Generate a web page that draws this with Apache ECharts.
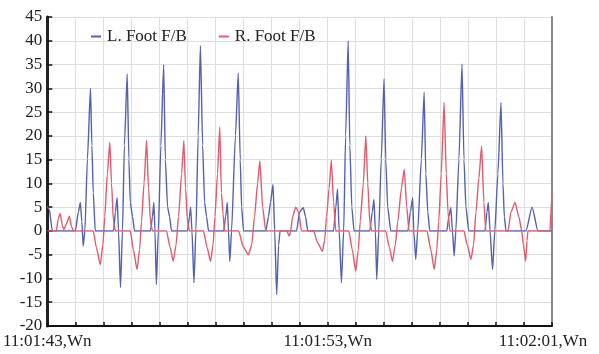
<!DOCTYPE html>
<html>
<head>
<meta charset="utf-8">
<script src="https://cdn.jsdelivr.net/npm/echarts@6/dist/echarts.min.js"></script>
<style>html,body{margin:0;padding:0;background:#fff}#c{width:599px;height:354px}</style>
</head>
<body>
<div id="c"></div>
<script>
// time in seconds after 11:01:43
const seriesNames = ['L. Foot F/B', 'R. Foot F/B'];
const timeLabels = {0: '11:01:43,Wn', 10: '11:01:53,Wn', 18: '11:02:01,Wn'};
const yTicks = {min: -20, max: 45, step: 5};

const leftT = [0.00,0.07,0.18,1.00,1.11,1.18,1.23,1.28,1.34,1.43,1.54,1.59,1.64,1.71,
 2.36,2.43,2.49,2.54,2.61,2.68,2.75,2.85,2.91,2.96,3.04,3.11,
 3.68,3.75,3.80,3.84,3.89,3.96,4.05,4.15,4.21,4.29,4.36,4.43,
 5.00,5.07,5.11,5.16,5.23,5.30,5.38,5.46,5.54,5.61,5.68,5.75,
 6.29,6.36,6.42,6.46,6.51,6.57,6.71,6.81,6.88,6.93,7.00,
 7.79,7.89,7.96,8.05,8.11,8.18,8.25,8.30,
 8.89,9.00,9.13,9.21,9.29,
 10.21,10.29,10.35,10.41,10.49,10.57,10.64,10.73,10.79,10.86,10.94,
 11.50,11.59,11.65,11.70,11.75,11.82,11.91,12.01,12.07,12.14,12.25,
 12.86,12.95,13.03,13.07,13.14,13.21,13.34,13.44,13.50,13.57,13.64,
 14.25,14.32,14.39,14.45,14.51,14.57,14.68,14.79,14.86,14.93,15.03,
 15.61,15.68,15.73,15.79,15.88,15.96,16.07,16.18,16.25,16.30,16.36,
 17.07,17.29,17.50,18.00];
const leftV = [5.2,4.5,0,0,4,6,2,-3.2,0,15,30,18,8,0,
 0,4,7,0,-11.9,0,18,33,15,6,3,0,
 0,3,6,0,-11.3,0,18,35,15,5,3,0,
 0,3,5,0,-10.9,0,20,39,18,6,3,0,
 0,3,6,0,-6.4,0,20,33.2,15,5,0,
 0,3,6,9.8,0,-13.4,-3,0,
 0,4,4.9,3,0,
 0,5,8.8,0,-10.9,0,20,40,18,5,0,
 0,4,6.6,0,-10.2,0,15,32,15,5,0,
 0,4,7,0,-6,0,15,29.2,12,4,0,
 0,3,4.9,0,-5.3,0,15,35.1,15,5,0,
 0,4,6,0,-8.1,0,12,27,10,3,0,
 0,5,0,0];

const rightT = [0.00,0.32,0.39,0.46,0.54,0.59,0.68,0.79,0.86,0.93,
 1.64,1.75,1.89,1.98,2.05,2.14,2.23,2.29,2.36,2.43,
 2.96,3.07,3.20,3.29,3.36,3.45,3.54,3.61,3.68,3.75,
 4.25,4.38,4.49,4.59,4.68,4.79,4.87,4.93,5.00,5.07,
 5.57,5.70,5.82,5.91,5.98,6.07,6.15,6.21,6.27,6.32,
 6.82,7.00,7.17,7.29,7.39,7.50,7.58,7.68,7.79,
 8.54,8.63,8.68,8.75,8.86,8.96,9.07,
 9.50,9.64,9.81,9.89,9.96,10.05,10.13,10.21,10.29,
 10.75,10.88,11.00,11.09,11.16,11.27,11.36,11.43,11.50,11.57,
 12.07,12.20,12.31,12.41,12.50,12.63,12.73,12.82,12.90,
 13.54,13.68,13.80,13.89,13.96,14.05,14.15,14.23,14.29,14.36,
 14.86,14.98,15.11,15.20,15.29,15.39,15.49,15.57,15.64,
 16.43,16.54,16.68,16.82,16.92,16.98,17.06,17.11,17.14,
 17.93,17.96,18.00];
const rightV = [0,0,2.5,3.7,1,0.3,1.5,3.1,1,0,
 0,-3.5,-7.1,-3,3,12,18.6,10,2,0,
 0,-4,-8.1,-4,2,10,19,9,2,0,
 0,-3.5,-6.4,-3,3,12,19,9,2,0,
 0,-3.5,-6.4,-3,3,12,21.8,8,3.5,0,
 0,-3.5,-5,-3,3,10,14.7,5,0,
 0,-1.1,0,3,5,4,0,
 0,-2.5,-4.3,-2,3,9,14.9,6,0,
 0,-4,-8.5,-4,2,10,20,10,2,0,
 0,-3.5,-6.4,-3,2,9,13,5,0,
 0,-4,-8.1,-4,2,12,27,12,4,0,
 0,-3,-6,-3,4,11,17.9,6,0,
 0,4,6,3,0,-3,-6.4,-2,0,
 0,4,7.7];

const zip = (t, v) => t.map((x, i) => [x, v[i]]);
const font = 'Liberation Serif';
const chart = echarts.init(document.getElementById('c'), null, {renderer: 'canvas'});
chart.setOption({
  backgroundColor: '#fff',
  animation: false,
  grid: {left: 47, right: 47, top: 17, bottom: 28, containLabel: false},
  legend: {
    left: 86, top: 23, itemWidth: 10, itemHeight: 2, itemGap: 32, icon: 'rect',
    textStyle: {fontFamily: font, fontSize: 17, color: '#222', padding: [0, 0, 0, 1]},
    data: seriesNames
  },
  xAxis: {
    type: 'value', min: 0, max: 18, interval: 1,
    axisLine: {show: true, onZero: false, lineStyle: {color: '#111', width: 2}},
    axisTick: {show: true, inside: true, length: 4, lineStyle: {color: '#111', width: 1.5}},
    splitLine: {show: true, lineStyle: {color: '#dedede', width: 1}},
    axisLabel: {
      fontFamily: font, fontSize: 17, color: '#222', margin: 7, showMinLabel: true, showMaxLabel: true,
      formatter: v => timeLabels[v] !== undefined ? (v === 18 ? '{last|' + timeLabels[v] + '}' : timeLabels[v]) : '',
      rich: {last: {fontFamily: font, fontSize: 17, color: '#222', padding: [0, 18, 0, 0]}}
    }
  },
  yAxis: [{
    type: 'value', min: yTicks.min, max: yTicks.max, interval: yTicks.step,
    axisLine: {show: true, onZero: false, lineStyle: {color: '#222', width: 3}},
    axisTick: {show: true, inside: true, length: 5, lineStyle: {color: '#111', width: 1.5}},
    splitLine: {show: true, lineStyle: {color: '#dedede', width: 1}},
    axisLabel: {fontFamily: font, fontSize: 17, color: '#222', margin: 5}
  }, {
    type: 'value', min: yTicks.min, max: yTicks.max, interval: yTicks.step, position: 'right',
    axisLine: {show: true, onZero: false, lineStyle: {color: '#888', width: 2}},
    axisTick: {show: false}, axisLabel: {show: false}, splitLine: {show: false}
  }],
  series: [
    {name: seriesNames[0], type: 'line', data: zip(leftT, leftV), showSymbol: false, symbol: 'none',
     smooth: 0.2, smoothMonotone: 'x', color: '#5461b3', lineStyle: {width: 1.4}},
    {name: seriesNames[1], type: 'line', data: zip(rightT, rightV), showSymbol: false, symbol: 'none',
     smooth: 0.2, smoothMonotone: 'x', color: '#e5596b', lineStyle: {width: 1.4}}
  ]
});
</script>
</body>
</html>
